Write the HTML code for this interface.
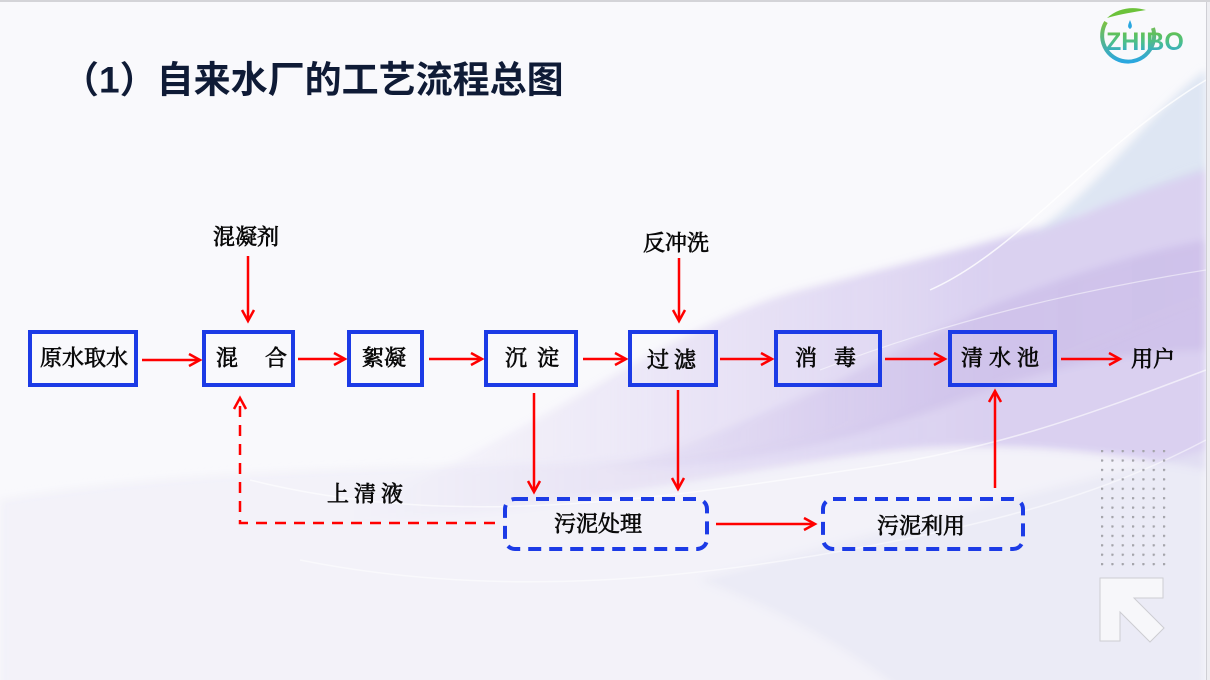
<!DOCTYPE html>
<html><head><meta charset="utf-8"><style>
html,body{margin:0;padding:0;width:1210px;height:680px;overflow:hidden;background:#f0f0f3;}
svg{display:block;}
.t{font-family:"Liberation Serif","Noto Serif CJK SC","Noto Sans CJK SC",serif;font-size:22px;fill:#0a0a0a;stroke:#0a0a0a;stroke-width:0.7;}
</style></head><body>
<svg width="1210" height="680" viewBox="0 0 1210 680" xmlns="http://www.w3.org/2000/svg">
<defs>
<linearGradient id="lg" x1="0" y1="0" x2="0" y2="1">
<stop offset="0" stop-color="#6cc23a"/><stop offset="0.5" stop-color="#4cbf8a"/><stop offset="1" stop-color="#2aa4e6"/>
</linearGradient>
<linearGradient id="arcg" x1="0" y1="0" x2="0" y2="1">
<stop offset="0" stop-color="#7cc242"/><stop offset="1" stop-color="#2aa7e0"/>
</linearGradient>
<linearGradient id="pg" gradientUnits="userSpaceOnUse" x1="350" y1="0" x2="1206" y2="0">
<stop offset="0" stop-color="#d2c6ee" stop-opacity="0"/>
<stop offset="0.45" stop-color="#d2c6ee" stop-opacity="0.45"/>
<stop offset="0.75" stop-color="#cec1ec" stop-opacity="0.72"/>
<stop offset="1" stop-color="#cec1ec" stop-opacity="0.72"/>
</linearGradient>
<linearGradient id="pg2" gradientUnits="userSpaceOnUse" x1="550" y1="0" x2="1206" y2="0">
<stop offset="0" stop-color="#c4b4e4" stop-opacity="0"/>
<stop offset="0.6" stop-color="#c4b4e4" stop-opacity="0.45"/>
<stop offset="1" stop-color="#c4b4e4" stop-opacity="0.5"/>
</linearGradient>
<pattern id="dots" x="1101" y="450" width="10.33" height="9.42" patternUnits="userSpaceOnUse">
<circle cx="1" cy="1" r="1.3" fill="#a4a4aa"/>
</pattern>
<clipPath id="slide"><rect x="0" y="2" width="1206" height="678"/></clipPath>
<filter id="soft" x="-5%" y="-5%" width="110%" height="110%"><feGaussianBlur stdDeviation="4"/></filter>
</defs>

<rect x="0" y="0" width="1210" height="680" fill="#eeeef2"/>
<rect x="0" y="0" width="1210" height="2" fill="#d4d4d8"/>
<rect x="0" y="2" width="1206" height="678" fill="#f9f9fc"/>
<rect x="1206" y="2" width="1" height="678" fill="#cfcfd5"/>

<g clip-path="url(#slide)">
<g filter="url(#soft)">
<path d="M0,500 C300,450 600,480 800,440 C950,410 1100,340 1206,300 L1206,690 L0,690 Z" fill="#eeecf7" opacity="0.6"/>
<path d="M300,520 C500,470 650,330 800,290 C900,265 1000,240 1080,215 C1130,195 1170,175 1206,165 L1206,470 C1100,450 1000,440 900,450 C750,465 500,525 300,520 Z" fill="url(#pg)"/>
<path d="M600,470 C750,430 880,360 980,310 C1080,270 1150,250 1206,240 L1206,350 C1120,350 1040,370 960,400 C860,440 720,470 600,470 Z" fill="url(#pg2)"/>
<path d="M1030,235 C1100,190 1150,110 1206,70 L1206,170 C1160,185 1100,205 1030,235 Z" fill="#d9e3f1" opacity="0.85"/>
<path d="M700,580 C850,540 1000,500 1206,450 L1206,690 L900,690 C850,650 780,610 700,580 Z" fill="#e6e6f4" opacity="0.6"/>
</g>
<path d="M250,480 C450,530 650,500 850,470 C1000,450 1100,410 1206,370" fill="none" stroke="#ffffff" stroke-width="1.5" opacity="0.6"/>
<path d="M300,560 C500,600 700,580 900,540 C1050,510 1130,480 1206,440" fill="none" stroke="#ffffff" stroke-width="1.5" opacity="0.5"/>
<path d="M930,290 C1020,250 1090,150 1206,80" fill="none" stroke="#ffffff" stroke-width="1.5" opacity="0.8"/>
<path d="M820,370 C950,320 1080,290 1206,270" fill="none" stroke="#ffffff" stroke-width="1.2" opacity="0.5"/>
</g>

<path d="M1106,22 A26,26 0 1 0 1153,28" fill="none" stroke="url(#arcg)" stroke-width="4"/>
<path d="M1107,18 C1118,8 1132,6 1146,10 C1135,12 1120,14 1107,18 Z" fill="#6cc23a"/>
<path d="M1130,20 C1128,25 1127,27 1130,29 C1133,27 1132,25 1130,20 Z" fill="#2aa7e0"/>
<text x="1106" y="50" font-family="Liberation Sans, sans-serif" font-weight="bold" font-size="25" fill="url(#lg)">ZHIBO</text>

<text x="62" y="80" dominant-baseline="central" font-family="Liberation Sans, Noto Sans CJK SC, sans-serif" font-weight="bold" font-size="37" fill="#0f1b36">（1）自来水厂的工艺流程总图</text>

<rect x="1098" y="447" width="70" height="121" fill="url(#dots)"/>
<polygon points="1100,578 1163,578 1163,598 1134,598 1164,628 1150,642 1120,612 1120,641 1100,641" fill="#f7f7fa" stroke="#cdcdd2" stroke-width="1"/>

<g fill="none" stroke="#1c3be6" stroke-width="4">
<rect x="30" y="332" width="106" height="53"/>
<rect x="204" y="332" width="89" height="53"/>
<rect x="349" y="332" width="73" height="53"/>
<rect x="486" y="332" width="90" height="53"/>
<rect x="630" y="332" width="86" height="53"/>
<rect x="776" y="332" width="104" height="53"/>
<rect x="950" y="332" width="105" height="53"/>
</g>
<g fill="none" stroke="#1c3be6" stroke-width="4" stroke-dasharray="13 8">
<rect x="505" y="499" width="202" height="50" rx="10"/>
<rect x="823" y="499" width="200" height="50" rx="10"/>
</g>

<g fill="none" stroke="#ff0000" stroke-width="2.5" stroke-linejoin="miter">
<line x1="142" y1="360" x2="199" y2="360"/><polyline points="189,354 200,360 189,366"/>
<line x1="298" y1="359" x2="344" y2="359"/><polyline points="334,353 345,359 334,365"/>
<line x1="429" y1="359" x2="481" y2="359"/><polyline points="471,353 482,359 471,365"/>
<line x1="583" y1="359" x2="625" y2="359"/><polyline points="615,353 626,359 615,365"/>
<line x1="720" y1="359" x2="771" y2="359"/><polyline points="761,353 772,359 761,365"/>
<line x1="885" y1="359" x2="944" y2="359"/><polyline points="934,353 945,359 934,365"/>
<line x1="1061" y1="359" x2="1119" y2="359"/><polyline points="1109,353 1120,359 1109,365"/>
<line x1="248" y1="256" x2="248" y2="320"/><polyline points="242,310 248,321 254,310"/>
<line x1="679" y1="258" x2="679" y2="320"/><polyline points="673,310 679,321 685,310"/>
<line x1="534" y1="393" x2="534" y2="491"/><polyline points="528,481 534,492 540,481"/>
<line x1="678" y1="390" x2="678" y2="488"/><polyline points="672,478 678,489 684,478"/>
<line x1="995" y1="488" x2="995" y2="392"/><polyline points="989,402 995,391 1001,402"/>
<line x1="716" y1="524" x2="814" y2="524"/><polyline points="804,518 815,524 804,530"/>
<polyline points="495,523 240,523 240,400" stroke-dasharray="11 8"/>
<polyline points="234,409 240,398 246,409"/>
</g>

<text class="t" x="40" y="358" dominant-baseline="central">原水取水</text>
<text class="t" x="216" y="358" dominant-baseline="central">混</text>
<text class="t" x="265" y="358" dominant-baseline="central">合</text>
<text class="t" x="362" y="358" dominant-baseline="central">絮凝</text>
<text class="t" x="505" y="358" dominant-baseline="central">沉</text>
<text class="t" x="537" y="358" dominant-baseline="central">淀</text>
<text class="t" x="647" y="360" dominant-baseline="central">过</text>
<text class="t" x="674" y="360" dominant-baseline="central">滤</text>
<text class="t" x="795" y="358" dominant-baseline="central">消</text>
<text class="t" x="834" y="358" dominant-baseline="central">毒</text>
<text class="t" x="961" y="358" dominant-baseline="central">清</text>
<text class="t" x="989" y="358" dominant-baseline="central">水</text>
<text class="t" x="1017" y="358" dominant-baseline="central">池</text>
<text class="t" x="1131" y="359" dominant-baseline="central">用户</text>
<text class="t" x="213" y="237" dominant-baseline="central">混凝剂</text>
<text class="t" x="643" y="243" dominant-baseline="central">反冲洗</text>
<text class="t" x="327" y="494" dominant-baseline="central">上</text>
<text class="t" x="354" y="494" dominant-baseline="central">清</text>
<text class="t" x="381" y="494" dominant-baseline="central">液</text>
<text class="t" x="554" y="524" dominant-baseline="central">污泥处理</text>
<text class="t" x="877" y="526" dominant-baseline="central">污泥利用</text>
</svg>
</body></html>
